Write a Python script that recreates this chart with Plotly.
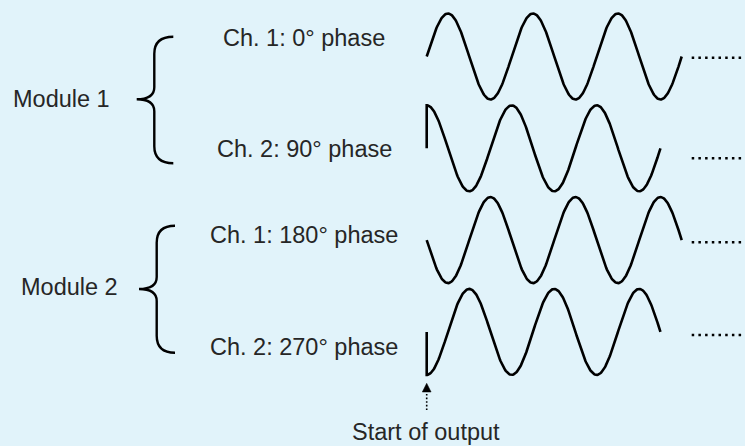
import numpy as np
import plotly.graph_objects as go

# ---- data ----
channels = ["Ch. 1: 0° phase", "Ch. 2: 90° phase", "Ch. 1: 180° phase", "Ch. 2: 270° phase"]
phases_deg = [0, 90, 180, 270]
cycles_shown = [3.0, 2.75, 3.0, 2.75]
modules = ["Module 1", "Module 2"]
start_label = "Start of output"

# ---- layout constants (pixels of the 745x446 canvas) ----
W, H = 745, 446
X0_PX, PERIOD_PX, AMP_PX = 426.7, 85.0, 43.0
CH0_PX, CH_SPACING_PX = 56.5, 91.8
TRAIL_START_PX = 691.7
trail_drop_px = [1.2, 10.0, 2.2, 3.1]
label_pos = [(304, 38), (304, 148.7), (304, 235.3), (304, 347)]
module_pos = [(61.3, 99), (69.2, 286.7)]
braces = [  # (x_end, x_vertical, x_tip, y_top, y_mid, y_bot)
    (173.3, 154.3, 136.7, 36.7, 99.3, 163.3),
    (175.0, 156.7, 139.0, 225.7, 289.0, 352.7),
]
BG = "#e1f3fa"
INK = "#000000"
TEXT = "#262626"
FONT = "Liberation Sans, Arial, Helvetica, sans-serif"
FS = 23.5

def px(x):
    return x / W

def py(y):
    return 1 - y / H

fig = go.Figure()

# waves: x in cycles, y in amplitude units (channel centers stacked downward)
spacing = CH_SPACING_PX / AMP_PX
for i, (ph, cyc) in enumerate(zip(phases_deg, cycles_shown)):
    center = -i * spacing
    t = np.linspace(0, cyc, 400)
    y = np.sin(2 * np.pi * t + np.deg2rad(ph)) + center
    xs = np.concatenate([[0.0], t])
    ys = np.concatenate([[center], y])
    fig.add_trace(go.Scatter(x=xs, y=ys, mode="lines",
                             line=dict(color=INK, width=2.6), hoverinfo="skip",
                             showlegend=False))
    # dotted continuation
    ty = center - trail_drop_px[i] / AMP_PX
    tx0 = (TRAIL_START_PX - X0_PX) / PERIOD_PX
    tx1 = (W + 10 - X0_PX) / PERIOD_PX
    fig.add_trace(go.Scatter(x=[tx0, tx1], y=[ty, ty], mode="lines",
                             line=dict(color=INK, width=2.5, dash="2.5px,4.2px"),
                             hoverinfo="skip", showlegend=False))

# start-of-output arrow (dotted shaft + head)
fig.add_shape(type="line", xref="paper", yref="paper",
              x0=px(X0_PX), x1=px(X0_PX), y0=py(410), y1=py(392),
              line=dict(color=INK, width=1.6, dash="1.6px,2px"))
fig.add_shape(type="path", xref="paper", yref="paper",
              path=f"M {px(X0_PX)} {py(383.3)} L {px(X0_PX-4.4)} {py(392)} L {px(X0_PX+4.4)} {py(392)} Z",
              fillcolor=INK, line=dict(color=INK, width=0.5))

# braces
for (xe, xv, xt, yt, ym, yb) in braces:
    r, r2 = 17, 12
    pts = [
        ("M", [(xe, yt)]),
        ("Q", [(xv, yt), (xv, yt + r)]),
        ("L", [(xv, ym - r2)]),
        ("Q", [(xv, ym), (xt, ym)]),
        ("Q", [(xv, ym), (xv, ym + r2)]),
        ("L", [(xv, yb - r)]),
        ("Q", [(xv, yb), (xe, yb)]),
    ]
    path = " ".join(cmd + " " + " ".join(f"{px(a):.5f},{py(b):.5f}" for a, b in p) for cmd, p in pts)
    fig.add_shape(type="path", xref="paper", yref="paper", path=path,
                  line=dict(color=INK, width=2.4))

# text
for lab, (x, y) in zip(channels, label_pos):
    fig.add_annotation(x=px(x), y=py(y), xref="paper", yref="paper", text=lab,
                       showarrow=False, xanchor="center", yanchor="middle",
                       font=dict(family=FONT, size=FS, color=TEXT))
for lab, (x, y) in zip(modules, module_pos):
    fig.add_annotation(x=px(x), y=py(y), xref="paper", yref="paper", text=lab,
                       showarrow=False, xanchor="center", yanchor="middle",
                       font=dict(family=FONT, size=FS, color=TEXT))
fig.add_annotation(x=px(426.3), y=py(432), xref="paper", yref="paper", text=start_label,
                   showarrow=False, xanchor="center", yanchor="middle",
                   font=dict(family=FONT, size=FS, color=TEXT))

fig.update_layout(
    width=W, height=H, margin=dict(l=0, r=0, t=0, b=0),
    paper_bgcolor=BG, plot_bgcolor=BG,
    xaxis=dict(range=[-X0_PX / PERIOD_PX, (W - X0_PX) / PERIOD_PX], visible=False, fixedrange=True),
    yaxis=dict(range=[-(H - CH0_PX) / AMP_PX, CH0_PX / AMP_PX], visible=False, fixedrange=True),
)

fig.write_html("out.html", config={"displayModeBar": False},
               post_script="document.body.style.margin='0';document.body.style.background='%s';" % BG)
